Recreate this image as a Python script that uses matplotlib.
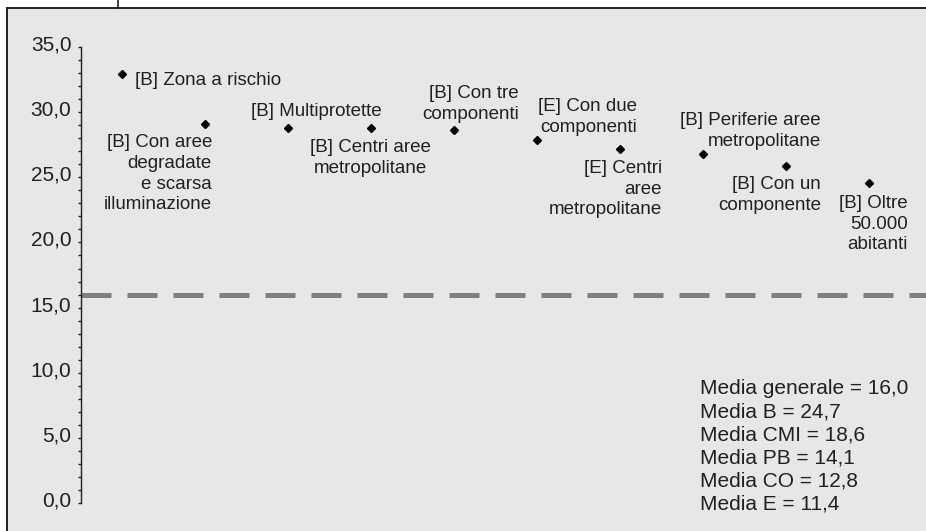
import numpy as np
import matplotlib.pyplot as plt
from matplotlib.patches import Rectangle
from matplotlib.lines import Line2D
from matplotlib.transforms import ScaledTranslation

plt.rcParams['font.family'] = ['Liberation Sans', 'DejaVu Sans']

# Dati
etichette = [
    "[B] Zona a rischio",
    "[B] Con aree\ndegradate\ne scarsa\nilluminazione",
    "[B] Multiprotette",
    "[B] Centri aree\nmetropolitane",
    "[B] Con tre\ncomponenti",
    "[E] Con due\ncomponenti",
    "[E] Centri\naree\nmetropolitane",
    "[B] Periferie aree\nmetropolitane",
    "[B] Con un\ncomponente",
    "[B] Oltre\n50.000\nabitanti",
]
valori = [32.9, 29.1, 28.8, 28.8, 28.6, 27.9, 27.2, 26.8, 25.9, 24.6]
media_generale = 16.0
medie_testo = ["Media generale = 16,0", "Media B = 24,7", "Media CMI = 18,6",
               "Media PB = 14,1", "Media CO = 12,8", "Media E = 11,4"]
y_ticks = [0, 5, 10, 15, 20, 25, 30, 35]

# posizione delle etichette rispetto al punto (pixel, allineamento)
pos_etichette = [
    (13, 2.5, 'left'), (7, -10.5, 'right'), (-37, 24.5, 'left'), (0, -11.5, 'center'),
    (65, 45.5, 'right'), (100, 41.5, 'right'), (42, -11.5, 'right'),
    (118, 41.5, 'right'), (35, -10.5, 'right'), (39, -12.5, 'right'),
]

W, H = 926, 531
testo = '#231f20'
fig = plt.figure(figsize=(W / 100, H / 100), dpi=100)
fig.patch.set_facecolor('white')

# pannello grigio con bordo
fig.patches.append(Rectangle((7 / W, 0), 1, 1 - 8 / H, transform=fig.transFigure,
                             facecolor='#e6e7e9', edgecolor='none', zorder=-10))
fig.lines.append(Line2D([7 / W, 1], [1 - 8 / H, 1 - 8 / H], transform=fig.transFigure,
                        color='#231f20', lw=1.4))
fig.lines.append(Line2D([7 / W, 7 / W], [0, 1 - 8 / H], transform=fig.transFigure,
                        color='#231f20', lw=1.4))
fig.lines.append(Line2D([118 / W, 118 / W], [1 - 8 / H, 1], transform=fig.transFigure,
                        color='#231f20', lw=1.2))

ax = fig.add_axes([7 / W, 0, 1 - 7 / W, 1 - 8 / H])
ax.set_facecolor('none')
xlim = (-0.386, 10.69)
ax.set_xlim(*xlim)
ax.set_ylim(-2.15, 38.0)

x = np.arange(1, len(valori) + 1)
ax.plot(x, valori, linestyle='none', marker='D', markersize=4.4,
        color='black', zorder=3)

# linea della media generale, dall'asse verso destra
ax.axhline(media_generale, xmin=(0.5 - xlim[0]) / (xlim[1] - xlim[0]), xmax=1,
           color='#808080', lw=3.6, dashes=(6, 3.2), zorder=2)

for xi, yi, lab, (dx, dy, ha) in zip(x, valori, etichette, pos_etichette):
    ax.annotate(lab, (xi, yi), xytext=(dx, dy), textcoords='offset pixels',
                ha=ha, va='top', fontsize=13.5, color=testo, linespacing=1.28)

fig.text(700 / W, 1 - 379 / H, "\n".join(medie_testo), ha='left', va='top',
         fontsize=15, color=testo, linespacing=1.28)

for s in ['top', 'right', 'bottom']:
    ax.spines[s].set_visible(False)
ax.spines['left'].set_position(('data', 0.5))
ax.spines['left'].set_bounds(0, 35)
ax.spines['left'].set_color('#231f20')
ax.spines['left'].set_linewidth(1.0)
ax.set_xticks([])
ax.set_yticks(y_ticks)
ax.set_yticklabels([f"{v:.1f}".replace('.', ',') for v in y_ticks])
ax.set_yticks(np.arange(0, 36, 1), minor=True)
ax.tick_params(axis='y', which='both', direction='out', length=2.5, width=1,
               color='#231f20', labelsize=15, labelcolor=testo, pad=4)
for lab in ax.get_yticklabels():
    lab.set_transform(lab.get_transform() + ScaledTranslation(0, 4 / 100, fig.dpi_scale_trans))

fig.savefig('out.png', dpi=100)
